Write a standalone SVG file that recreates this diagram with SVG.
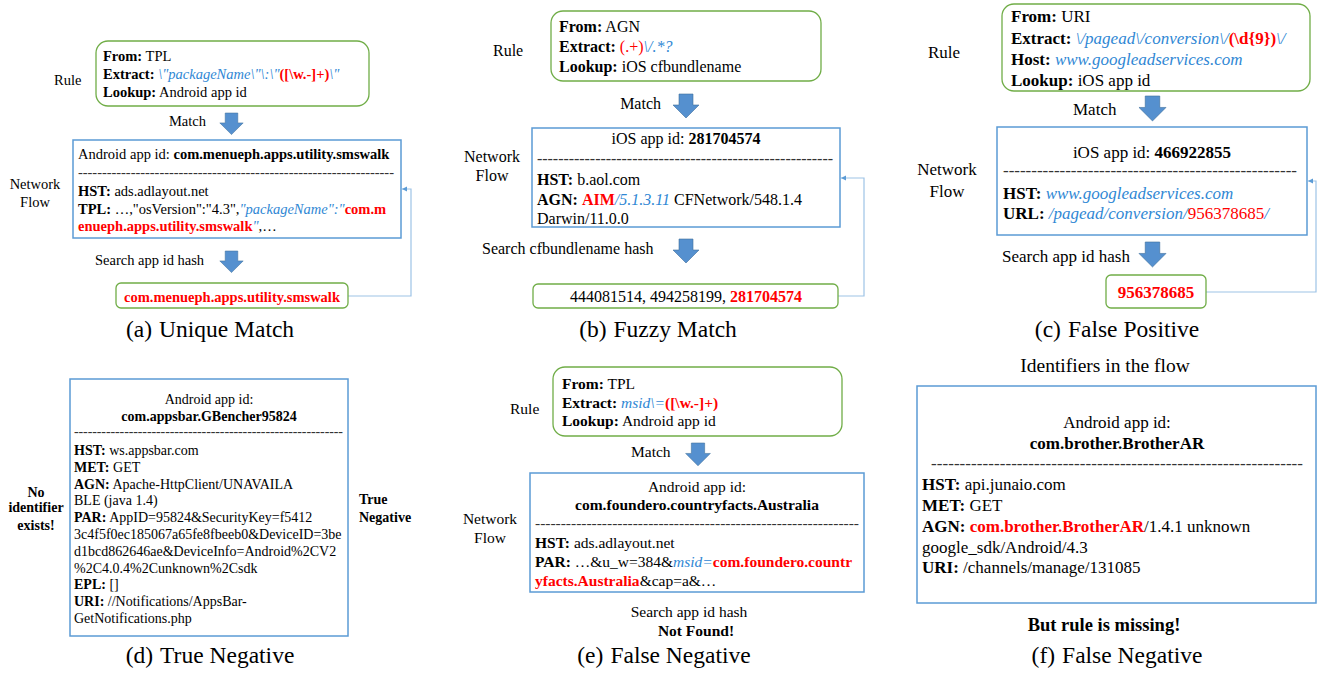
<svg xmlns="http://www.w3.org/2000/svg" width="1318" height="673" viewBox="0 0 1318 673">
<style>
text{font-family:"Liberation Serif","Times New Roman",serif;fill:#000}
.b{font-weight:bold}
.bl{fill:#2f87d4;font-style:italic}
.rd{fill:#ff0000;font-weight:bold}
.rn{fill:#ff0000}
.rule{fill:#fff;stroke:#70ad47;stroke-width:1.3}
.flow{fill:#fff;stroke:#5b9bd5;stroke-width:1.5}
.conn{fill:none;stroke:#9dc3e6;stroke-width:1.2}
.blk{fill:#5590cf;stroke:#41719c;stroke-width:0.6}
.cap{font-size:23.5px}
.dash{fill:#333}
</style>
<defs>
<path id="bigarrow" d="M-7,0 H7 V11 H13 L0,24 L-13,11 H-7 Z"/>
<marker id="ah" markerWidth="6" markerHeight="6" refX="5" refY="3" orient="auto" markerUnits="userSpaceOnUse">
<path d="M0,0.5 L5,3 L0,5.5 Z" fill="#5b9bd5"/>
</marker>
</defs>

<g id="connectors">
<path class="conn" d="M348,296 H411 V189 H402" marker-end="url(#ah)"/>
<path class="conn" d="M838,296 H864 V178 H841" marker-end="url(#ah)"/>
<path class="conn" d="M1206,292 H1316 V181 H1308" marker-end="url(#ah)"/>
<use href="#bigarrow" class="blk" transform="translate(231.5,113) scale(0.9)"/>
<use href="#bigarrow" class="blk" transform="translate(231.5,251) scale(0.9)"/>
<use href="#bigarrow" class="blk" transform="translate(686,94)"/>
<use href="#bigarrow" class="blk" transform="translate(686,239)"/>
<use href="#bigarrow" class="blk" transform="translate(1152.5,96) scale(1.04)"/>
<use href="#bigarrow" class="blk" transform="translate(1152.5,242) scale(1.04)"/>
<use href="#bigarrow" class="blk" transform="translate(698,443) scale(0.95)"/>
</g>

<!-- Panel (a) -->
<g id="a-rule" font-size="14.5">
<text x="54" y="85" font-size="14.5">Rule</text>
<rect class="rule" x="96" y="41" width="273" height="65" rx="12"/>
<text x="103" y="61" font-size="14.5"><tspan class="b">From:</tspan> TPL</text>
<text x="103" y="79" font-size="14.5"><tspan class="b">Extract:</tspan> <tspan class="bl">\"packageName\"\:\"</tspan><tspan class="rd">([\w.-]+)</tspan><tspan class="bl">\"</tspan></text>
<text x="103" y="97" font-size="14.5"><tspan class="b">Lookup:</tspan> Android app id</text>
</g>
<g id="a-match"><text x="206" y="126" font-size="14.5" text-anchor="end">Match</text></g>
<g id="a-flow">
<text x="35" y="189" font-size="14.5" text-anchor="middle">Network</text>
<text x="35" y="207" font-size="14.5" text-anchor="middle">Flow</text>
<rect class="flow" x="73" y="140" width="328" height="98"/>
<text x="78" y="159" font-size="14.5">Android app id: <tspan class="b">com.menueph.apps.utility.smswalk</tspan></text>
<text class="dash" x="78" y="177" font-size="14.5" textLength="316" lengthAdjust="spacing">------------------------------------------------------------------</text>
<text x="78" y="196" font-size="14.5"><tspan class="b">HST:</tspan> ads.adlayout.net</text>
<text x="78" y="214" font-size="14.5"><tspan class="b">TPL:</tspan> …,"osVersion":"4.3",<tspan class="bl">"packageName":"</tspan><tspan class="rd">com.m</tspan></text>
<text x="78" y="231" font-size="14.5"><tspan class="rd">enueph.apps.utility.smswalk</tspan><tspan class="bl">"</tspan>,…</text>
</g>
<g id="a-search"><text x="95" y="265" font-size="14.5">Search app id hash</text></g>
<g id="a-result">
<rect class="rule" x="116" y="283" width="232" height="25" rx="5"/>
<text class="rd" x="232" y="302" font-size="14.5" text-anchor="middle">com.menueph.apps.utility.smswalk</text>
</g>
<g id="a-caption"><text class="cap" x="210" y="337" text-anchor="middle">(a)<tspan dx="7">Unique Match</tspan></text></g>

<!-- Panel (b) -->
<g id="b-rule">
<text x="493" y="56" font-size="16">Rule</text>
<rect class="rule" x="551" y="11" width="270" height="70" rx="12"/>
<text x="559" y="31.5" font-size="16"><tspan class="b">From:</tspan> AGN</text>
<text x="559" y="52" font-size="16"><tspan class="b">Extract:</tspan> <tspan class="rn">(.+)</tspan><tspan class="bl">\/.*?</tspan></text>
<text x="559" y="72" font-size="16"><tspan class="b">Lookup:</tspan> iOS cfbundlename</text>
</g>
<g id="b-match"><text x="661" y="109" font-size="16" text-anchor="end">Match</text></g>
<g id="b-flow">
<text x="492" y="162" font-size="16" text-anchor="middle">Network</text>
<text x="492" y="181" font-size="16" text-anchor="middle">Flow</text>
<rect class="flow" x="532" y="128" width="308" height="99"/>
<text x="686" y="143.5" font-size="16" text-anchor="middle">iOS app id: <tspan class="b">281704574</tspan></text>
<text class="dash" x="537" y="164" font-size="16" textLength="296" lengthAdjust="spacing">--------------------------------------------------------</text>
<text x="537" y="185" font-size="16"><tspan class="b">HST:</tspan> b.aol.com</text>
<text x="537" y="205" font-size="16"><tspan class="b">AGN:</tspan> <tspan class="rd">AIM</tspan><tspan class="bl">/5.1.3.11</tspan> CFNetwork/548.1.4</text>
<text x="537" y="224" font-size="16">Darwin/11.0.0</text>
</g>
<g id="b-search"><text x="482" y="254" font-size="16">Search cfbundlename hash</text></g>
<g id="b-result">
<rect class="rule" x="533" y="284" width="305" height="24" rx="5"/>
<text x="686" y="302" font-size="16" text-anchor="middle">444081514, 494258199, <tspan class="rd">281704574</tspan></text>
</g>
<g id="b-caption"><text class="cap" x="658" y="337" text-anchor="middle">(b)<tspan dx="7">Fuzzy Match</tspan></text></g>

<!-- Panel (c) -->
<g id="c-rule">
<text x="928" y="57.5" font-size="17">Rule</text>
<rect class="rule" x="1002" y="4" width="308" height="87" rx="12"/>
<text x="1011" y="22" font-size="17"><tspan class="b">From:</tspan> URI</text>
<text x="1011" y="44" font-size="17"><tspan class="b">Extract:</tspan> <tspan class="bl">\/pagead\/conversion\/</tspan><tspan class="rd">(\d{9})</tspan><tspan class="bl">\/</tspan></text>
<text x="1011" y="65" font-size="17"><tspan class="b">Host:</tspan> <tspan class="bl">www.googleadservices.com</tspan></text>
<text x="1011" y="86" font-size="17"><tspan class="b">Lookup:</tspan> iOS app id</text>
</g>
<g id="c-match"><text x="1073" y="115" font-size="17">Match</text></g>
<g id="c-flow">
<text x="947" y="175" font-size="17" text-anchor="middle">Network</text>
<text x="947" y="196.5" font-size="17" text-anchor="middle">Flow</text>
<rect class="flow" x="997" y="127" width="310" height="108"/>
<text x="1152" y="157.5" font-size="17" text-anchor="middle">iOS app id: <tspan class="b">466922855</tspan></text>
<text class="dash" x="1003" y="176" font-size="17" textLength="294" lengthAdjust="spacing">----------------------------------------------------</text>
<text x="1003" y="198.5" font-size="17"><tspan class="b">HST:</tspan> <tspan class="bl">www.googleadservices.com</tspan></text>
<text x="1003" y="219" font-size="17"><tspan class="b">URL:</tspan> <tspan class="bl">/pagead/conversion/</tspan><tspan class="rn">956378685</tspan><tspan class="bl">/</tspan></text>
</g>
<g id="c-search"><text x="1002" y="261.5" font-size="17">Search app id hash</text></g>
<g id="c-result">
<rect class="rule" x="1106" y="275" width="100" height="33" rx="5"/>
<text class="rd" x="1156" y="298" font-size="17" text-anchor="middle">956378685</text>
</g>
<g id="c-caption"><text class="cap" x="1117" y="337" text-anchor="middle">(c)<tspan dx="7">False Positive</tspan></text></g>

<!-- Panel (d) -->
<g id="d-left">
<text class="b" x="36" y="496.5" font-size="14" text-anchor="middle">No</text>
<text class="b" x="36" y="512" font-size="14" text-anchor="middle">identifier</text>
<text class="b" x="36" y="530" font-size="14" text-anchor="middle">exists!</text>
</g>
<g id="d-flow" font-size="14">
<rect class="flow" x="70" y="379" width="278" height="257"/>
<text x="209" y="404" font-size="14" text-anchor="middle">Android app id:</text>
<text class="b" x="209" y="420.5" font-size="14" text-anchor="middle">com.appsbar.GBencher95824</text>
<text class="dash" x="74" y="436" font-size="14" textLength="269" lengthAdjust="spacing">-----------------------------------------------------------</text>
<text x="74" y="455" font-size="14"><tspan class="b">HST:</tspan> ws.appsbar.com</text>
<text x="74" y="471.8" font-size="14"><tspan class="b">MET:</tspan> GET</text>
<text x="74" y="488.6" font-size="14"><tspan class="b">AGN:</tspan> Apache-HttpClient/UNAVAILA</text>
<text x="74" y="505.4" font-size="14">BLE (java 1.4)</text>
<text x="74" y="522.2" font-size="14"><tspan class="b">PAR:</tspan> AppID=95824&amp;SecurityKey=f5412</text>
<text x="74" y="539" font-size="14">3c4f5f0ec185067a65fe8fbeeb0&amp;DeviceID=3be</text>
<text x="74" y="555.8" font-size="14">d1bcd862646ae&amp;DeviceInfo=Android%2CV2</text>
<text x="74" y="572.6" font-size="14">%2C4.0.4%2Cunknown%2Csdk</text>
<text x="74" y="589.4" font-size="14"><tspan class="b">EPL:</tspan> []</text>
<text x="74" y="606.2" font-size="14"><tspan class="b">URI:</tspan> //Notifications/AppsBar-</text>
<text x="74" y="623" font-size="14">GetNotifications.php</text>
</g>
<g id="d-right">
<text class="b" x="359" y="504" font-size="14">True</text>
<text class="b" x="359" y="521.5" font-size="14">Negative</text>
</g>
<g id="d-caption"><text class="cap" x="210" y="663" text-anchor="middle">(d)<tspan dx="7">True Negative</tspan></text></g>

<!-- Panel (e) -->
<g id="e-rule">
<text x="510" y="414" font-size="15.5">Rule</text>
<rect class="rule" x="553" y="367" width="289" height="69" rx="12"/>
<text x="562" y="389" font-size="15.5"><tspan class="b">From:</tspan> TPL</text>
<text x="562" y="407.5" font-size="15.5"><tspan class="b">Extract:</tspan> <tspan class="bl">msid\=</tspan><tspan class="rd">([\w.-]+)</tspan></text>
<text x="562" y="426" font-size="15.5"><tspan class="b">Lookup:</tspan> Android app id</text>
</g>
<g id="e-match"><text x="631" y="457" font-size="15.5">Match</text></g>
<g id="e-flow">
<text x="490" y="524" font-size="15.5" text-anchor="middle">Network</text>
<text x="490" y="543" font-size="15.5" text-anchor="middle">Flow</text>
<rect class="flow" x="530" y="473" width="334" height="119"/>
<text x="697" y="492" font-size="15.5" text-anchor="middle">Android app id:</text>
<text class="b" x="697" y="510" font-size="15.5" text-anchor="middle">com.foundero.countryfacts.Australia</text>
<text class="dash" x="535" y="528" font-size="15.5" textLength="324" lengthAdjust="spacing">---------------------------------------------------------------</text>
<text x="535" y="548" font-size="15.5"><tspan class="b">HST:</tspan> ads.adlayout.net</text>
<text x="535" y="567" font-size="15.5"><tspan class="b">PAR:</tspan> …&amp;u_w=384&amp;<tspan class="bl">msid=</tspan><tspan class="rd">com.foundero.countr</tspan></text>
<text x="535" y="586" font-size="15.5"><tspan class="rd">yfacts.Australia</tspan>&amp;cap=a&amp;…</text>
</g>
<g id="e-search">
<text x="689" y="617" font-size="15.5" text-anchor="middle">Search app id hash</text>
<text class="b" x="696" y="636" font-size="15.5" text-anchor="middle">Not Found!</text>
</g>
<g id="e-caption"><text class="cap" x="664" y="663" text-anchor="middle">(e)<tspan dx="7">False Negative</tspan></text></g>

<!-- Panel (f) -->
<g id="f-title"><text x="1105" y="372" font-size="19.5" text-anchor="middle">Identifiers in the flow</text></g>
<g id="f-flow">
<rect class="flow" x="917" y="386" width="399" height="217"/>
<text x="1117" y="428" font-size="17" text-anchor="middle">Android app id:</text>
<text class="b" x="1117" y="449" font-size="17" text-anchor="middle">com.brother.BrotherAR</text>
<text class="dash" x="931" y="469" font-size="17" textLength="372" lengthAdjust="spacing">-----------------------------------------------------------------</text>
<text x="922" y="490" font-size="17"><tspan class="b">HST:</tspan> api.junaio.com</text>
<text x="922" y="510.5" font-size="17"><tspan class="b">MET:</tspan> GET</text>
<text x="922" y="531.5" font-size="17"><tspan class="b">AGN:</tspan> <tspan class="rd">com.brother.BrotherAR</tspan>/1.4.1 unknown</text>
<text x="922" y="552.5" font-size="17">google_sdk/Android/4.3</text>
<text x="922" y="573" font-size="17"><tspan class="b">URI:</tspan> /channels/manage/131085</text>
</g>
<g id="f-note"><text class="b" x="1104" y="631" font-size="18.5" text-anchor="middle">But rule is missing!</text></g>
<g id="f-caption"><text class="cap" x="1117" y="663" text-anchor="middle">(f)<tspan dx="7">False Negative</tspan></text></g>
</svg>
